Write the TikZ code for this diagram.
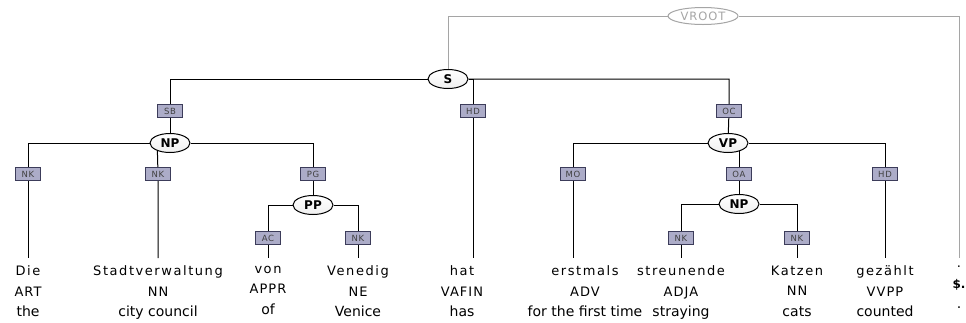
\documentclass[tikz,border=0pt]{standalone}
\usepackage{fontspec}
\setmainfont{DejaVu Sans}
\newfontfamily\wordfont[LetterSpace=12]{DejaVu Sans}
\newfontfamily\tagfont[LetterSpace=8]{DejaVu Sans}
\usetikzlibrary{shapes.geometric}
\definecolor{labfill}{RGB}{172,172,200}
\definecolor{labdraw}{RGB}{60,60,90}
\definecolor{rootgray}{RGB}{165,165,165}

\begin{document}
\begin{tikzpicture}[x=1pt, y=-1pt, line width=1pt,
    phrase/.style={ellipse, draw, top color=white, bottom color=black!6, minimum width=40pt, minimum height=19pt, inner sep=0pt, font=\bfseries\fontsize{12}{12}\selectfont},
    vroot/.style={ellipse, draw=rootgray, fill=white, text=rootgray, minimum width=70pt, minimum height=17pt, inner sep=0pt, font=\tagfont\fontsize{11.5}{11.5}\selectfont},
    edgelab/.style={rectangle, draw=labdraw, fill=labfill, minimum width=25pt, minimum height=13pt, inner sep=0pt, text=black!75, font=\tagfont\fontsize{8.5}{8.5}\selectfont},
    word/.style={anchor=north, align=center, inner sep=0pt, outer ysep=8pt, font=\fontsize{13}{20.5}\selectfont}]
  \useasboundingbox (0,0) rectangle (966,322);

  % phrase nodes
  \node[vroot]  (vroot) at (703,16)  {VROOT};
  \node[phrase] (s)     at (448,79)  {S};
  \node[phrase] (np1)   at (170,143) {NP};
  \node[phrase] (vp)    at (728,143) {VP};
  \node[phrase] (pp)    at (313,205) {PP};
  \node[phrase] (np2)   at (739,204) {NP};

  % edge labels
  \node[edgelab] (sb)  at (170,111) {SB};
  \node[edgelab] (hd1) at (473,111) {HD};
  \node[edgelab] (oc)  at (729,111) {OC};
  \node[edgelab] (nk1) at (28,174)  {NK};
  \node[edgelab] (nk2) at (158,174) {NK};
  \node[edgelab] (pg)  at (313,174) {PG};
  \node[edgelab] (mo)  at (573,174) {MO};
  \node[edgelab] (oa)  at (739,174) {OA};
  \node[edgelab] (hd2) at (885,174) {HD};
  \node[edgelab] (ac)  at (268,238) {AC};
  \node[edgelab] (nk3) at (358,238) {NK};
  \node[edgelab] (nk4) at (681,238) {NK};
  \node[edgelab] (nk5) at (797,238) {NK};

  % words: token, tag, gloss
  \node[word] (w1)  at (28,258)  {{\wordfont Die}\\{\tagfont ART}\\{\fontsize{14}{20.5}\selectfont the}};
  \node[word] (w2)  at (158,258) {{\wordfont Stadtverwaltung}\\{\tagfont NN}\\{\fontsize{14}{20.5}\selectfont city council}};
  \node[word] (w3)  at (268,258) {{\wordfont von}\\{\tagfont APPR}\\{\fontsize{14}{20.5}\selectfont of}};
  \node[word] (w4)  at (358,258) {{\wordfont Venedig}\\{\tagfont NE}\\{\fontsize{14}{20.5}\selectfont Venice}};
  \node[word] (w5)  at (462,258) {{\wordfont hat}\\{\tagfont VAFIN}\\{\fontsize{14}{20.5}\selectfont has}};
  \node[word] (w6)  at (585,258) {{\wordfont erstmals}\\{\tagfont ADV}\\{\fontsize{14}{20.5}\selectfont for the first time}};
  \node[word] (w7)  at (681,258) {{\wordfont streunende}\\{\tagfont ADJA}\\{\fontsize{14}{20.5}\selectfont straying}};
  \node[word] (w8)  at (797,258) {{\wordfont Katzen}\\{\tagfont NN}\\{\fontsize{14}{20.5}\selectfont cats}};
  \node[word] (w9)  at (885,258) {{\wordfont gezählt}\\{\tagfont VVPP}\\{\fontsize{14}{20.5}\selectfont counted}};
  \node[word] (w10) at (959,258) {{\wordfont .}\\{\bfseries\fontsize{12}{20.5}\selectfont \$.}\\{\fontsize{14}{20.5}\selectfont .}};

  % S
  \draw (s) -| (sb) -- (np1);
  \draw (s) -| (hd1) -- (hd1 |- w5.north);
  \draw (s) -| (oc) -- (vp);

  % NP (subject)
  \draw (np1) -| (nk1) -- (w1);
  \draw (np1.212) -- (nk2) -- (w2);
  \draw (np1) -| (pg) -- (pp);
  \draw (pp) -| (ac) -- (w3);
  \draw (pp) -| (nk3) -- (w4);

  % VP
  \draw (vp) -| (mo) -- (mo |- w6.north);
  \draw (oa |- vp.324) -- (oa) -- (np2);
  \draw (vp) -| (hd2) -- (w9);
  \draw (np2) -| (nk4) -- (w7);
  \draw (np2) -| (nk5) -- (w8);

  % VROOT
  \draw[rootgray] (vroot) -| (s);
  \draw[rootgray] (vroot) -| (w10);
\end{tikzpicture}
\end{document}
